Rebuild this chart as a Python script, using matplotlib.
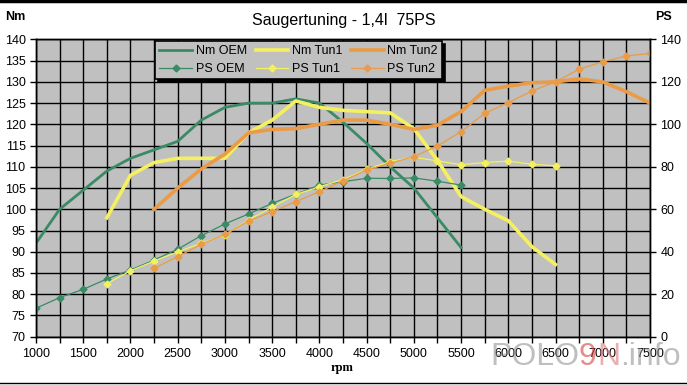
import matplotlib
matplotlib.use("Agg")
import matplotlib.pyplot as plt
from matplotlib.ticker import MultipleLocator

plt.rcParams['font.family'] = ['Liberation Sans', 'DejaVu Sans']

# Drehzahl-Raster (rpm)
rpm_oem = [1000, 1250, 1500, 1750, 2000, 2250, 2500, 2750, 3000, 3250,
           3500, 3750, 4000, 4250, 4500, 4750, 5000, 5250, 5500]
rpm_tun1 = [1750, 2000, 2250, 2500, 2750, 3000, 3250, 3500, 3750, 4000,
            4250, 4500, 4750, 5000, 5250, 5500, 5750, 6000, 6250, 6500]
rpm_tun2 = [2250, 2500, 2750, 3000, 3250, 3500, 3750, 4000, 4250, 4500,
            4750, 5000, 5250, 5500, 5750, 6000, 6250, 6500, 6750, 7000,
            7250, 7500]

# Drehmoment (Nm)
nm_oem = [92, 100, 104.5, 109, 112, 114, 116, 121, 124, 125,
          125, 126, 125, 120.5, 115.5, 110, 105, 98, 91]
nm_tun1 = [98, 108, 111, 112, 112, 112, 118, 121, 125.5, 124,
           123.3, 123, 122.7, 119, 111.5, 103, 100, 97.3, 91.2, 87]
nm_tun2 = [100, 105, 109.5, 113, 118, 118.8, 119, 120, 121, 121,
           120, 118.8, 119.8, 123, 128, 129, 129.8, 130, 130.7, 130,
           127.7, 125]

# Leistung (PS)
ps_oem = [13.4, 18.4, 22.3, 27.2, 31.4, 36.1, 41.2, 47.6, 53.1, 57.8,
          62.8, 67.1, 71.4, 73, 74.6, 74.5, 74.8, 73.2, 71.4]
ps_tun1 = [25, 31, 35.6, 40, 44, 48, 55, 61, 67, 70.6,
           74, 78.8, 82.5, 84.5, 82.8, 81, 82, 82.7, 81.2, 80.5]
ps_tun2 = [32.2, 37.7, 43.5, 48.2, 54.5, 58.9, 63.6, 68.3, 73.4, 78.5,
           81.7, 84.8, 89.8, 96.5, 105.2, 110.2, 115.7, 120, 126, 129.5,
           132.2, 133.4]

c_oem = '#3a8a66'
c_tun1 = '#f4f060'
c_tun2 = '#eb9b45'
plot_bg = '#c0c0c0'

fig = plt.figure(figsize=(6.87, 3.85), dpi=100)
ax = fig.add_axes([36/687, 1 - 336.7/385, (650 - 36)/687, (336.7 - 39.4)/385])
ax.set_facecolor(plot_bg)

ax.plot(rpm_oem, nm_oem, color=c_oem, lw=2.0, label='Nm OEM')
ax.plot(rpm_tun1, nm_tun1, color=c_tun1, lw=2.6, label='Nm Tun1')
ax.plot(rpm_tun2, nm_tun2, color=c_tun2, lw=2.6, label='Nm Tun2')

ax.set_xlim(1000, 7500)
ax.set_ylim(70, 140)
ax.xaxis.set_major_locator(MultipleLocator(500))
ax.xaxis.set_minor_locator(MultipleLocator(250))
ax.yaxis.set_major_locator(MultipleLocator(5))
ax.grid(True, which='both', color='black', lw=1)
ax.set_axisbelow(True)
ax.tick_params(axis='both', which='both', direction='out', color='black',
               labelsize=9, length=4, width=1)
ax.tick_params(axis='x', pad=4)

ax2 = ax.twinx()
ax2.plot(rpm_oem, ps_oem, color=c_oem, lw=0.9, marker='D', ms=3.5, label='PS OEM')
ax2.plot(rpm_tun1, ps_tun1, color=c_tun1, lw=0.9, marker='D', ms=3.5, label='PS Tun1')
ax2.plot(rpm_tun2, ps_tun2, color=c_tun2, lw=0.9, marker='D', ms=3.5, label='PS Tun2')
ax2.set_ylim(0, 140)
ax2.yaxis.set_major_locator(MultipleLocator(20))
ax2.tick_params(axis='y', direction='out', labelsize=9, length=4, width=1)

for a in (ax, ax2):
    for s in a.spines.values():
        s.set_color('black')
        s.set_linewidth(1)

# Legende: 2 Zeilen x 3 Spalten
h1, l1 = ax.get_legend_handles_labels()
h2, l2 = ax2.get_legend_handles_labels()
handles = [h1[0], h2[0], h1[1], h2[1], h1[2], h2[2]]
labels = [l1[0], l2[0], l1[1], l2[1], l1[2], l2[2]]
leg = fig.legend(handles, labels, ncol=3, loc='upper left',
                 bbox_to_anchor=(155/687, 1 - 41/385), fontsize=9,
                 frameon=True, fancybox=False, facecolor=plot_bg,
                 edgecolor='black', framealpha=1, borderpad=0.35,
                 labelspacing=0.45, handlelength=2.6, handletextpad=0.3,
                 columnspacing=0.7, borderaxespad=0,
                 shadow={'color': 'black', 'alpha': 1, 'ox': 2, 'oy': -2})
leg.get_frame().set_linewidth(1.2)

fig.text(0.5, 1 - 20/385, 'Saugertuning - 1,4l  75PS', ha='center', va='center',
         fontsize=11.5)
fig.text(15/687, 1 - 17/385, 'Nm', ha='center', va='center', fontsize=9,
         fontweight='bold')
fig.text(663/687, 1 - 17/385, 'PS', ha='center', va='center', fontsize=9,
         fontweight='bold')
fig.text(342/687, 1 - 368/385, 'rpm', ha='center', va='center', fontsize=9,
         fontweight='bold', family=['Liberation Serif', 'DejaVu Serif'])

# Wasserzeichen
wm_y = 1 - 357/385
fig.text(490/687, wm_y, 'POLO', ha='left', va='center', fontsize=23,
         color='#8c8c8c', alpha=0.55)
fig.text(579/687, wm_y, '9', ha='left', va='center', fontsize=23,
         color='#d83c3c', alpha=0.6)
fig.text(597/687, wm_y, 'N', ha='left', va='center', fontsize=23,
         color='#e07a7a', alpha=0.6)
fig.text(620/687, wm_y, '.info', ha='left', va='center', fontsize=23,
         color='#8c8c8c', alpha=0.55)

# Rahmenlinien oben/unten
fig.add_artist(plt.Line2D([0, 1], [0.997, 0.997], color='black', lw=2.5))
fig.add_artist(plt.Line2D([0, 1], [1 - 383/385, 1 - 383/385], color='black', lw=1))

fig.savefig('out.png', dpi=100)
